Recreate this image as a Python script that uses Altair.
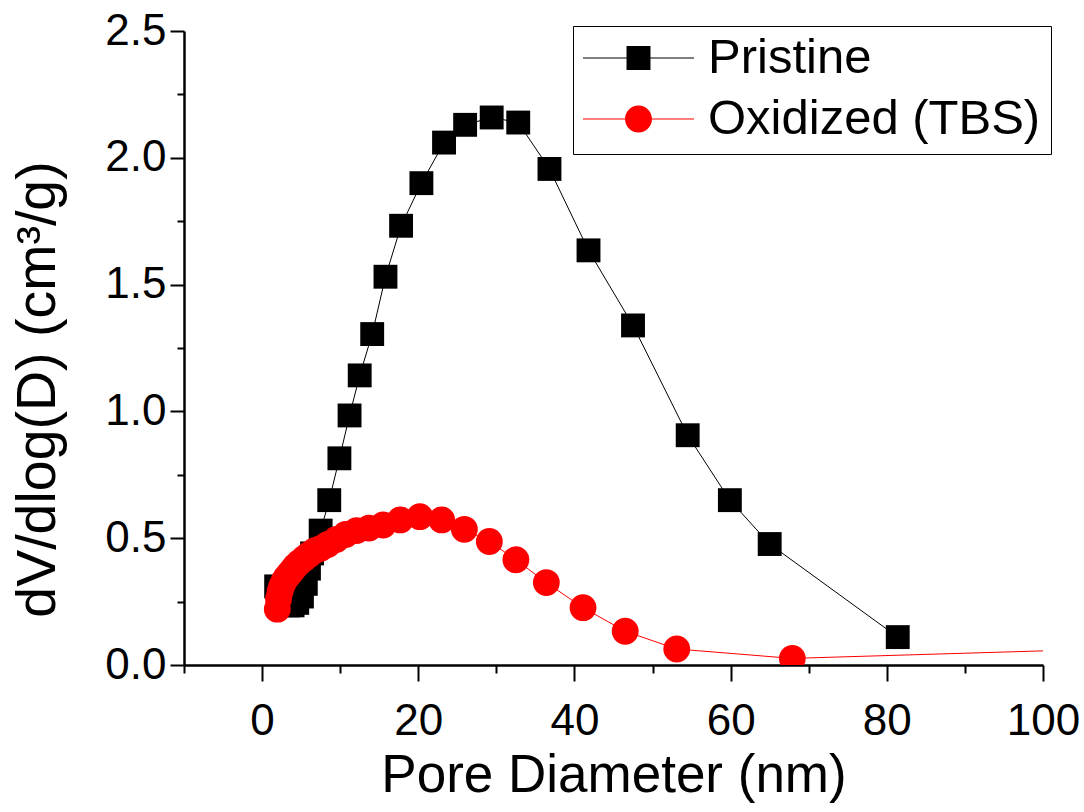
import altair as alt
import pandas as pd

# BJH pore size distributions (dV/dlog(D), cm3/g) against pore diameter (nm)
pristine_d = [1.8, 2.3, 2.8, 3.3, 3.9, 4.5, 5.1, 5.6, 6.0, 6.4,
              7.5, 8.6, 9.9, 11.2, 12.5, 14.1, 15.8, 17.8, 20.4, 23.3,
              26.0, 29.4, 32.8, 36.8, 41.8, 47.5, 54.5, 59.9, 65.0, 81.4]
pristine_v = [0.31, 0.265, 0.245, 0.235, 0.235, 0.245, 0.27, 0.32, 0.38, 0.44,
              0.53, 0.65, 0.815, 0.984, 1.142, 1.305, 1.531, 1.732, 1.90, 2.06,
              2.13, 2.159, 2.139, 1.956, 1.635, 1.339, 0.906, 0.65, 0.477, 0.11]

oxidized_d = [1.95, 2.1, 2.3, 2.5, 2.8, 3.1, 3.5, 3.9, 4.3, 4.8,
              5.4, 6.0, 6.7, 7.5, 8.4, 9.5, 10.7, 12.1, 13.7, 15.5,
              17.7, 20.2, 23.0, 25.9, 29.1, 32.5, 36.4, 41.1, 46.5, 53.1,
              67.9, 110.0]
oxidized_v = [0.22, 0.26, 0.29, 0.31, 0.33, 0.345, 0.36, 0.375, 0.39, 0.405,
              0.42, 0.435, 0.45, 0.46, 0.475, 0.495, 0.515, 0.53, 0.54, 0.552,
              0.572, 0.585, 0.572, 0.535, 0.487, 0.415, 0.325, 0.226, 0.133, 0.063,
              0.026, 0.065]

series_names = ["Pristine", "Oxidized (TBS)"]
series_colors = ["black", "red"]

x_major = [0, 20, 40, 60, 80, 100]
x_minor = [-10, 10, 30, 50, 70, 90]
y_major = [0.0, 0.5, 1.0, 1.5, 2.0, 2.5]
y_minor = [0.25, 0.75, 1.25, 1.75, 2.25]

df_p = pd.DataFrame({"D": pristine_d, "V": pristine_v, "series": series_names[0]})
df_o = pd.DataFrame({"D": oxidized_d, "V": oxidized_v, "series": series_names[1]})
df_all = pd.concat([df_p, df_o], ignore_index=True)

FONT = "Liberation Sans"
xscale = alt.Scale(domain=[-10, 100], nice=False, zero=False)
yscale = alt.Scale(domain=[0, 2.5], nice=False, zero=False)

x_axis_major = alt.Axis(
    orient="bottom", values=x_major, format="d", title="Pore Diameter (nm)",
    labelFont=FONT, labelFontSize=44, labelColor="black", labelPadding=18,
    titleFont=FONT, titleFontSize=53, titleFontWeight="normal", titleColor="black",
    titlePadding=6, tickSize=16, tickWidth=2, tickColor="black",
    domainWidth=2.5, domainColor="black", grid=False, labelFlush=False,
)
x_axis_minor = alt.Axis(
    orient="bottom", values=x_minor, labels=False, title=None, domain=False,
    tickSize=8, tickWidth=2, tickColor="black", grid=False,
)
y_axis_major = alt.Axis(
    orient="left", values=y_major, format=".1f", title="dV/dlog(D) (cm³/g)",
    labelFont=FONT, labelFontSize=44, labelColor="black", labelPadding=4,
    titleFont=FONT, titleFontSize=55.5, titleFontWeight="normal", titleColor="black",
    titlePadding=38, titleY=358, tickSize=14, tickWidth=2, tickColor="black",
    domainWidth=2.5, domainColor="black", grid=False, labelFlush=False,
)
y_axis_minor = alt.Axis(
    orient="left", values=y_minor, labels=False, title=None, domain=False,
    tickSize=7, tickWidth=2, tickColor="black", grid=False,
)

def xy(xaxis, yaxis):
    return dict(
        x=alt.X("D:Q", scale=xscale, axis=xaxis),
        y=alt.Y("V:Q", scale=yscale, axis=yaxis),
    )

pristine_line = alt.Chart(df_p).mark_line(color="black", strokeWidth=1, clip=True).encode(
    **xy(x_axis_major, y_axis_major))
pristine_pts = alt.Chart(df_p).mark_point(
    shape="square", filled=True, size=570, color="black", opacity=1, clip=True
).encode(**xy(x_axis_minor, y_axis_minor))
oxidized_line = alt.Chart(df_o).mark_line(color="red", strokeWidth=1, clip=True).encode(
    **xy(None, None))
oxidized_pts = alt.Chart(df_o).mark_point(
    shape="circle", filled=True, size=720, color="red", opacity=1, clip=True
).encode(**xy(None, None))

# legend symbols: a short line with the series marker in the middle
sq_path = ("M-1,-0.009H-0.216V0.009H-1Z M0.216,-0.009H1V0.009H0.216Z "
           "M-0.216,-0.216H0.216V0.216H-0.216Z")
ci_path = ("M-1,-0.009H-0.243V0.009H-1Z M0.243,-0.009H1V0.009H0.243Z "
           "M-0.243,0A0.243,0.243 0 1,0 0.243,0A0.243,0.243 0 1,0 -0.243,0Z")

legend = alt.Legend(
    title=None, orient="none", legendX=389, legendY=-5,
    labelFont=FONT, labelFontSize=49, labelColor="black", labelOffset=14,
    labelLimit=600,
    symbolSize=12321, clipHeight=44, rowPadding=12, padding=10,
    strokeColor="black", fillColor="white",
    symbolStrokeWidth=0, symbolOpacity=1,
)
legend_layer = alt.Chart(df_all).transform_filter("false").mark_point(
    filled=True, opacity=1
).encode(
    **xy(None, None),
    color=alt.Color("series:N", scale=alt.Scale(domain=series_names, range=series_colors),
                    legend=legend),
    shape=alt.Shape("series:N", scale=alt.Scale(domain=series_names, range=[sq_path, ci_path]),
                    legend=legend),
)

chart = (
    alt.layer(pristine_line, pristine_pts, oxidized_line, oxidized_pts, legend_layer)
    .resolve_axis(x="independent", y="independent")
    .properties(
        width=859, height=634,
        autosize=alt.AutoSizeParams(type="none"),
        padding={"left": 184, "top": 31, "right": 41, "bottom": 147},
        background="white",
    )
    .configure_view(stroke=None)
)

chart.save("out.html", embed_options={"renderer": "svg", "actions": False})
